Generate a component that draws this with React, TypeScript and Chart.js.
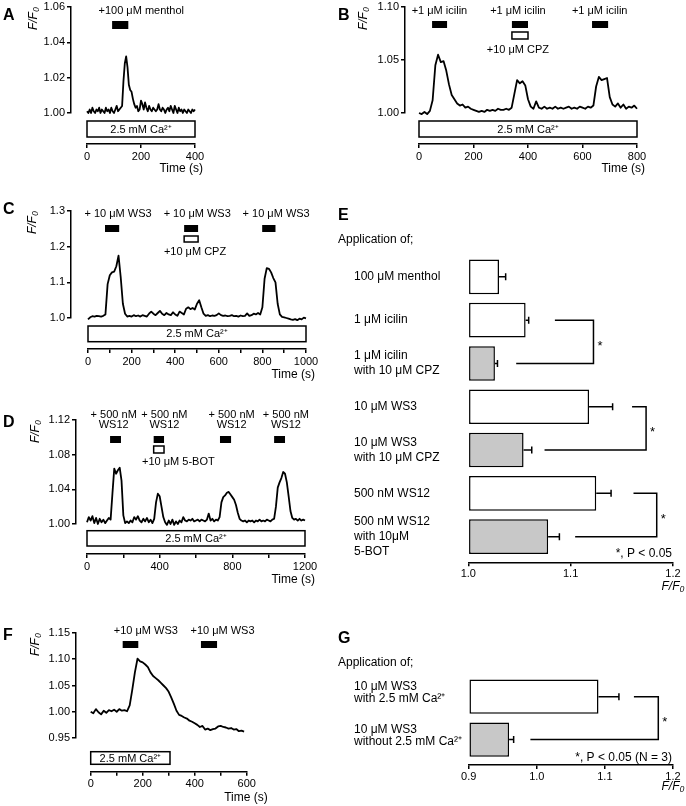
import React, { useEffect, useRef } from 'react';
import { Chart, registerables } from 'chart.js';

Chart.register(...registerables);

const FONT = '"Liberation Sans", Arial, Helvetica, sans-serif';
Chart.defaults.font.family = FONT;
Chart.defaults.color = '#000';

// ======================= DATA =======================
const CA_TEXT = '2.5 mM Ca²⁺';
const Y_TITLE = 'F/F₀';
const TIME_TITLE = 'Time (s)';
const HEADING = 'Application of;';
const SIG_MARK = '*';

// ---- Panel A : 100 µM menthol ----
const A_DT = 5; // sampling interval (s)
const A_VALUES = [
  1.001, 1.000, 1.002, 1.000, 1.003, 1.001, 1.000, 1.002, 1.001, 1.003,
  1.000, 1.002, 1.001, 1.000, 1.003, 1.001, 1.002, 1.000, 1.003, 1.001,
  1.000, 1.002, 1.004, 1.001, 1.002, 1.003,
  1.004, 1.018, 1.028, 1.032, 1.026, 1.016, 1.013, 1.012, 1.008, 1.005,
  1.003, 1.004, 1.001, 1.002, 1.007,
  1.005, 1.002, 1.006, 1.003, 1.001, 1.004, 1.002, 1.001, 1.003, 1.002,
  1.001, 1.002, 1.005, 1.002, 1.001, 1.003, 1.002, 1.000, 1.002, 1.003,
  1.001, 1.004, 1.002, 1.000, 1.004, 1.002, 1.000, 1.003, 1.001, 1.002,
  1.000, 1.002, 1.001, 1.000, 1.002, 1.001, 1.000, 1.002, 1.001, 1.002,
];
const A_Y_TICKS = [1.0, 1.02, 1.04, 1.06];
const A_X_TICKS = [0, 200, 400];
const A_X_LABELS = [0, 200, 400];
const A_CA = [0, 400];
const A_DRUG = [[93, 153]];
const A_OPEN: number[][] = [];
const A_TEXT = [['+100 μM menthol']];
const A_TEXT_T = [201];
const A_SUB: string[] = [];
const A_SUB_T: number[] = [];

// ---- Panel B : 1 µM icilin ----
const B_DT = 10;
const B_VALUES = [
  1.000, 0.999, 1.001, 0.999, 1.002, 1.012, 1.045, 1.055, 1.048, 1.049,
  1.040, 1.027, 1.017, 1.013, 1.009, 1.007, 1.008, 1.005, 1.006, 1.004,
  1.003, 1.002, 1.001, 1.002, 1.001, 1.003, 1.002, 1.003, 1.002, 1.004,
  1.003, 1.003, 1.004, 1.003, 1.005, 1.018, 1.031, 1.028, 1.030, 1.026,
  1.013, 1.006, 1.004, 1.011, 1.005, 1.004, 1.006, 1.004, 1.005, 1.004,
  1.006, 1.004, 1.005, 1.004, 1.005, 1.006, 1.004, 1.005, 1.004, 1.006,
  1.005, 1.004, 1.006, 1.005, 1.007, 1.025, 1.034, 1.031, 1.032, 1.033,
  1.015, 1.008, 1.006, 1.009, 1.005, 1.008, 1.004, 1.006, 1.005, 1.007,
  1.004,
];
const B_Y_TICKS = [1.0, 1.05, 1.1];
const B_X_TICKS = [0, 200, 400, 600, 800];
const B_X_LABELS = [0, 200, 400, 600, 800];
const B_CA = [0, 800];
const B_DRUG = [[48, 103], [341, 400], [635, 694]];
const B_OPEN = [[341, 400]];
const B_TEXT = [['+1 μM icilin'], ['+1 μM icilin'], ['+1 μM icilin']];
const B_TEXT_T = [75, 363, 663];
const B_SUB = ['+10 μM CPZ'];
const B_SUB_T = [363];

// ---- Panel C : 10 µM WS3 ----
const C_DT = 10;
const C_VALUES = [
  0.996, 1.002, 1.005, 1.004, 1.006, 1.005, 1.004, 1.006, 1.010, 1.095,
  1.120, 1.128, 1.130, 1.145, 1.175, 1.115, 1.040, 1.012, 1.004, 1.006,
  1.004, 1.008, 1.005, 1.007, 1.004, 1.008, 1.006, 1.004, 1.012, 1.018,
  1.012, 1.008, 1.014, 1.020, 1.012, 1.008, 1.014, 1.010, 1.008, 1.016,
  1.010, 1.006, 1.018, 1.014, 1.010, 1.026, 1.030, 1.025, 1.028, 1.024,
  1.040, 1.050, 1.030, 1.012, 1.006, 1.008, 1.005, 1.007, 1.006, 1.008,
  1.013, 1.008, 1.006, 1.007, 1.005, 1.006, 1.008, 1.005, 1.006, 1.004,
  1.007, 1.005, 1.006, 1.013, 1.006, 1.008, 1.012, 1.010, 1.014, 1.010,
  1.030, 1.110, 1.140, 1.138, 1.128, 1.112, 1.100, 1.040, 1.010, 1.003,
  1.002, 1.000, 0.998, 0.996, 0.995, 0.997, 0.994, 0.998, 0.996, 1.001,
  0.999,
];
const C_Y_TICKS = [1.0, 1.1, 1.2, 1.3];
const C_X_TICKS = [0, 100, 200, 300, 400, 500, 600, 700, 800, 900, 1000];
const C_X_LABELS = [0, 200, 400, 600, 800, 1000];
const C_CA = [0, 1000];
const C_DRUG = [[78, 143], [441, 505], [799, 860]];
const C_OPEN = [[441, 505]];
const C_TEXT = [['+ 10 μM WS3'], ['+ 10 μM WS3'], ['+ 10 μM WS3']];
const C_TEXT_T = [138, 501, 863];
const C_SUB = ['+10 μM CPZ'];
const C_SUB_T = [491];

// ---- Panel D : 500 nM WS12 ----
const D_DT = 10;
const D_VALUES = [
  1.002, 1.008, 1.004, 1.009, 1.001, 1.007, 1.000, 1.006, 1.002, 1.005,
  1.001, 1.004, 1.007, 1.005, 1.035, 1.064, 1.058, 1.062, 1.065, 1.050,
  1.010, 1.001, 1.003, 1.001, 1.004, 1.002, 1.008, 1.005, 1.009, 1.004,
  1.002, 1.006, 1.003, 1.007, 1.002, 1.005, 1.001, 1.006, 1.025, 1.035,
  1.032, 1.020, 1.008, 1.002, 0.999, 1.004, 1.000, 1.005, 0.999, 1.003,
  1.000, 1.004, 1.002, 1.008, 1.004, 1.003, 1.005, 1.004, 1.006, 1.003,
  1.004, 1.005, 1.003, 1.005, 1.004, 1.003, 1.005, 1.012, 1.004, 1.006,
  1.003, 1.005, 1.004, 1.008, 1.025, 1.031, 1.033, 1.036, 1.037, 1.034,
  1.031, 1.028, 1.022, 1.013, 1.006, 1.004, 1.003, 1.004, 1.002, 1.004,
  1.003, 1.004, 1.002, 1.004, 1.003, 1.005, 1.003, 1.004, 1.003, 1.005,
  1.004, 1.003, 1.005, 1.006, 1.020, 1.042, 1.048, 1.053, 1.060, 1.058,
  1.048, 1.032, 1.015, 1.007, 1.005, 1.006, 1.004, 1.006, 1.004, 1.005,
  1.004,
];
const D_Y_TICKS = [1.0, 1.04, 1.08, 1.12];
const D_X_TICKS = [0, 200, 400, 600, 800, 1000, 1200];
const D_X_LABELS = [0, 400, 800, 1200];
const D_CA = [0, 1200];
const D_DRUG = [[127, 187], [367, 424], [732, 793], [1030, 1090]];
const D_OPEN = [[367, 424]];
const D_TEXT = [['+ 500 nM', 'WS12'], ['+ 500 nM', 'WS12'], ['+ 500 nM', 'WS12'], ['+ 500 nM', 'WS12']];
const D_TEXT_T = [147, 426, 796, 1095];
const D_SUB = ['+10 μM 5-BOT'];
const D_SUB_T = [503];

// ---- Panel F : WS3 without extracellular Ca ----
const F_DT = 10;
const F_VALUES = [
  1.000, 0.997, 1.005, 0.999, 0.995, 1.002, 0.998, 1.003, 1.001, 1.004,
  1.000, 1.005, 1.002, 1.003, 1.001, 1.012, 1.042, 1.075, 1.101, 1.096,
  1.094, 1.090, 1.085, 1.075, 1.068, 1.064, 1.060, 1.055, 1.050, 1.045,
  1.038, 1.027, 1.015, 1.002, 0.994, 0.992, 0.989, 0.987, 0.983, 0.981,
  0.978, 0.975, 0.971, 0.973, 0.966, 0.968, 0.965, 0.967, 0.968, 0.972,
  0.973, 0.971, 0.970, 0.968, 0.969, 0.966, 0.967, 0.963, 0.964, 0.962,
];
const F_Y_TICKS = [0.95, 1.0, 1.05, 1.1, 1.15];
const F_X_TICKS = [0, 100, 200, 300, 400, 500, 600];
const F_X_LABELS = [0, 200, 400, 600];
const F_CA = [0, 305];
const F_DRUG = [[123, 183], [424, 486]];
const F_OPEN: number[][] = [];
const F_TEXT = [['+10 μM WS3'], ['+10 μM WS3']];
const F_TEXT_T = [212, 507];
const F_SUB: string[] = [];
const F_SUB_T: number[] = [];

// ---- Panel E : summary ----
const E_LABELS = [
  ['100 μM menthol'],
  ['1 μM icilin'],
  ['1 μM icilin', 'with 10 μM CPZ'],
  ['10 μM WS3'],
  ['10 μM WS3', 'with 10 μM CPZ'],
  ['500 nM WS12'],
  ['500 nM WS12', 'with 10μM', '5-BOT'],
];
const E_VALUES = [1.030, 1.056, 1.026, 1.118, 1.054, 1.125, 1.078];
const E_ERRORS = [0.0065, 0.003, 0.0025, 0.023, 0.008, 0.0145, 0.011];
const E_GROUP = ['agonist', 'agonist', 'blocker', 'agonist', 'blocker', 'agonist', 'blocker'];
const E_X_TICKS = [1.0, 1.1, 1.2];
const E_BRACKETS = [[1, 2], [3, 4], [5, 6]];
const E_P_TEXT = '*, P < 0.05';

// ---- Panel G : summary ----
const G_LABELS = [
  ['10 μM WS3', 'with 2.5 mM Ca²⁺'],
  ['10 μM WS3', 'without 2.5 mM Ca²⁺'],
];
const G_VALUES = [1.0906, 0.9593];
const G_ERRORS = [0.030, 0.0067];
const G_GROUP = ['agonist', 'blocker'];
const G_X_TICKS = [0.9, 1.0, 1.1, 1.2];
const G_BRACKETS = [[0, 1]];
const G_P_TEXT = '*, P < 0.05 (N = 3)';

// ======================= STYLES / LAYOUT =======================
const FILL: any = { agonist: '#ffffff', blocker: '#c8c8c8' };
const LINE_W = 1.5;
const TRACE_W = 1.8;

const TRACE_PANELS: any[] = [
  {
    data: { dt: A_DT, values: A_VALUES, yTicks: A_Y_TICKS, xTicks: A_X_TICKS, xLabels: A_X_LABELS, ca: A_CA, drug: A_DRUG, open: A_OPEN, text: A_TEXT, textT: A_TEXT_T, sub: A_SUB, subT: A_SUB_T },
    style: { letter: 'A', letterXY: [3, 20], canvas: { l: 0, t: -10, w: 336, h: 200 }, xL: 87, xR: 195, yT: 7, yB: 113, yAxisX: 71, yTitleX: 34, xAxisY: 144, yDec: 2, bar: [14, 22], open: [25, 32], labelY: 4, subY: 43, ca: [8, 24], timeDx: 8, timeDy: 25 },
  },
  {
    data: { dt: B_DT, values: B_VALUES, yTicks: B_Y_TICKS, xTicks: B_X_TICKS, xLabels: B_X_LABELS, ca: B_CA, drug: B_DRUG, open: B_OPEN, text: B_TEXT, textT: B_TEXT_T, sub: B_SUB, subT: B_SUB_T },
    style: { letter: 'B', letterXY: [338, 20], canvas: { l: 336, t: -10, w: 350, h: 200 }, xL: 419, xR: 637, yT: 7, yB: 113, yAxisX: 405, yTitleX: 364, xAxisY: 144, yDec: 2, bar: [14, 21], open: [25, 32], labelY: 4, subY: 43, ca: [8, 24], timeDx: 8, timeDy: 25 },
  },
  {
    data: { dt: C_DT, values: C_VALUES, yTicks: C_Y_TICKS, xTicks: C_X_TICKS, xLabels: C_X_LABELS, ca: C_CA, drug: C_DRUG, open: C_OPEN, text: C_TEXT, textT: C_TEXT_T, sub: C_SUB, subT: C_SUB_T },
    style: { letter: 'C', letterXY: [3, 214], canvas: { l: 0, t: 195, w: 336, h: 195 }, xL: 88, xR: 306, yT: 211, yB: 318, yAxisX: 71, yTitleX: 33, xAxisY: 349, yDec: 1, bar: [14, 21], open: [25, 31], labelY: 3, subY: 41, ca: [8, 23.7], timeDx: 9, timeDy: 26 },
  },
  {
    data: { dt: D_DT, values: D_VALUES, yTicks: D_Y_TICKS, xTicks: D_X_TICKS, xLabels: D_X_LABELS, ca: D_CA, drug: D_DRUG, open: D_OPEN, text: D_TEXT, textT: D_TEXT_T, sub: D_SUB, subT: D_SUB_T },
    style: { letter: 'D', letterXY: [3, 427], canvas: { l: 0, t: 395, w: 336, h: 200 }, xL: 87, xR: 305, yT: 420, yB: 524, yAxisX: 76, yTitleX: 36, xAxisY: 554, yDec: 2, bar: [16, 23], open: [26, 33], labelY: -5, subY: 42, ca: [6.7, 22], timeDx: 10, timeDy: 26 },
  },
  {
    data: { dt: F_DT, values: F_VALUES, yTicks: F_Y_TICKS, xTicks: F_X_TICKS, xLabels: F_X_LABELS, ca: F_CA, drug: F_DRUG, open: F_OPEN, text: F_TEXT, textT: F_TEXT_T, sub: F_SUB, subT: F_SUB_T },
    style: { letter: 'F', letterXY: [3, 640], canvas: { l: 0, t: 600, w: 336, h: 206 }, xL: 90.7, xR: 246.7, yT: 633, yB: 738, yAxisX: 76, yTitleX: 36, xAxisY: 771.7, yDec: 2, bar: [8, 15], open: [0, 0], labelY: -2, subY: 0, ca: [13.7, 26.3], timeDx: 21, timeDy: 26.3 },
  },
];

const BAR_PANELS: any[] = [
  {
    data: { labels: E_LABELS, values: E_VALUES, errors: E_ERRORS, group: E_GROUP, xTicks: E_X_TICKS, brackets: E_BRACKETS, pText: E_P_TEXT },
    style: {
      letter: 'E', letterXY: [338, 220], headXY: [338, 240], canvas: { l: 336, t: 195, w: 350, h: 400 },
      labelX: 354, xL: 468.3, xR: 673, yT: 255.2, yB: 558.3, xAxisY: 562.3, labelSize: 12, labelLH: 1.25, labelOffset: 0,
      bracketX: [
        { upper: 1.0846, lower: 1.0468, at: 1.1223 },
        { upper: 1.160, lower: 1.0745, at: 1.1737 },
        { upper: 1.1614, lower: 1.1044, at: 1.1841 },
      ],
      pDy: -5, titleDy: 24.4,
    },
  },
  {
    data: { labels: G_LABELS, values: G_VALUES, errors: G_ERRORS, group: G_GROUP, xTicks: G_X_TICKS, brackets: G_BRACKETS, pText: G_P_TEXT },
    style: {
      letter: 'G', letterXY: [338, 643], headXY: [338, 662.7], canvas: { l: 336, t: 620, w: 350, h: 186 },
      labelX: 354, xL: 468.7, xR: 673, yT: 675.2, yB: 761, xAxisY: 765, labelSize: 12, labelLH: 1.05, labelOffset: -4,
      bracketX: [{ upper: 1.1426, lower: 0.9906, at: 1.1784 }],
      pDy: -3.7, titleDy: 21.7,
    },
  },
];

// ======================= CHART BUILDERS =======================
const axisGrid = { display: true, drawOnChartArea: false, drawTicks: true, tickLength: 4, color: '#000', lineWidth: LINE_W };
const axisBorder = { display: true, color: '#000', width: LINE_W };
const padScale = (size: number, horizontal: boolean) => ({
  type: 'linear', position: horizontal ? 'bottom' : 'left', weight: 0, min: 0, max: 1, display: true,
  ticks: { display: false }, grid: { display: false }, border: { display: false },
  afterFit: (s: any) => { if (horizontal) s.height = size; else s.width = size; },
});

function traceConfig(d: any, s: any): any {
  const titleHalf = 7.2;
  const padL = s.yTitleX - titleHalf - s.canvas.l;
  const yW = s.yAxisX - (s.yTitleX - titleHalf);
  const ypadW = s.xL - s.yAxisX;
  const padR = s.canvas.l + s.canvas.w - s.xR;
  const padT = s.yT - s.canvas.t;
  const xpadH = s.xAxisY - s.yB;
  const xAxisH = 20;
  const padB = s.canvas.t + s.canvas.h - s.xAxisY - xAxisH;
  const yTicks = d.yTicks;
  const xTicks = d.xTicks;
  const points = d.values.map((v: number, i: number) => ({ x: i * d.dt, y: v }));

  const plugin = {
    id: 'traceAnnotations',
    afterDraw(chart: any) {
      const ctx = chart.ctx;
      const ca = chart.chartArea;
      const xs = chart.scales.x;
      const px = (t: number) => xs.getPixelForValue(t);
      ctx.save();
      ctx.strokeStyle = '#000';
      ctx.fillStyle = '#000';
      ctx.lineWidth = LINE_W;
      // Ca2+ box
      const cx0 = px(d.ca[0]);
      const cx1 = px(d.ca[1]);
      const cy0 = ca.bottom + s.ca[0];
      const cy1 = ca.bottom + s.ca[1];
      ctx.strokeRect(cx0, cy0, cx1 - cx0, cy1 - cy0);
      ctx.font = `11px ${FONT}`;
      ctx.textAlign = 'center';
      ctx.textBaseline = 'middle';
      ctx.fillText(CA_TEXT, (cx0 + cx1) / 2, (cy0 + cy1) / 2 + 0.5);
      // drug application bars
      d.drug.forEach((w: number[]) => {
        ctx.fillRect(px(w[0]), ca.top + s.bar[0], px(w[1]) - px(w[0]), s.bar[1] - s.bar[0]);
      });
      d.open.forEach((w: number[]) => {
        ctx.strokeRect(px(w[0]), ca.top + s.open[0], px(w[1]) - px(w[0]), s.open[1] - s.open[0]);
      });
      d.text.forEach((lines: string[], i: number) => {
        lines.forEach((ln: string, j: number) => {
          ctx.fillText(ln, px(d.textT[i]), ca.top + s.labelY + j * 10);
        });
      });
      d.sub.forEach((t: string, i: number) => {
        ctx.fillText(t, px(d.subT[i]), ca.top + s.subY);
      });
      // time title
      ctx.font = `12px ${FONT}`;
      ctx.textAlign = 'right';
      ctx.fillText(TIME_TITLE, ca.right + s.timeDx, ca.bottom + xpadH + s.timeDy);
      // panel letter
      ctx.font = `bold 16px ${FONT}`;
      ctx.textAlign = 'left';
      ctx.textBaseline = 'alphabetic';
      ctx.fillText(s.letter, s.letterXY[0] - s.canvas.l, s.letterXY[1] - s.canvas.t);
      ctx.restore();
    },
  };

  return {
    type: 'line',
    data: {
      datasets: [{
        data: points, xAxisID: 'x', yAxisID: 'y', borderColor: '#000', borderWidth: TRACE_W,
        pointRadius: 0, tension: 0, clip: false, borderJoinStyle: 'round', fill: false,
      }],
    },
    options: {
      responsive: false, animation: false, events: [], devicePixelRatio: 1,
      layout: { padding: { left: padL, right: padR, top: padT, bottom: padB } },
      plugins: { legend: { display: false }, tooltip: { enabled: false }, title: { display: false } },
      scales: {
        x: {
          type: 'linear', position: 'bottom', weight: 1, min: xTicks[0], max: xTicks[xTicks.length - 1],
          afterBuildTicks: (sc: any) => { sc.ticks = xTicks.map((v: number) => ({ value: v })); },
          afterFit: (sc: any) => { sc.height = xAxisH; },
          ticks: {
            autoSkip: false, maxRotation: 0, padding: 2, font: { size: 11 }, color: '#000',
            callback: (v: any) => (d.xLabels.indexOf(v) >= 0 ? String(v) : ''),
          },
          grid: axisGrid, border: axisBorder,
        },
        xpad: padScale(xpadH, true),
        y: {
          type: 'linear', position: 'left', weight: 1, min: yTicks[0], max: yTicks[yTicks.length - 1],
          afterBuildTicks: (sc: any) => { sc.ticks = yTicks.map((v: number) => ({ value: v })); },
          afterFit: (sc: any) => { sc.width = yW; },
          ticks: { autoSkip: false, padding: 2, font: { size: 11 }, color: '#000', callback: (v: any) => Number(v).toFixed(s.yDec) },
          grid: axisGrid, border: axisBorder,
          title: { display: true, text: Y_TITLE, align: 'end', padding: 0, color: '#000', font: { size: 12, style: 'italic' } },
        },
        ypad: padScale(ypadW, false),
      },
    },
    plugins: [plugin],
  };
}

function barConfig(d: any, s: any): any {
  const padL = s.labelX - s.canvas.l;
  const yW = s.xL - s.labelX;
  const padR = s.canvas.l + s.canvas.w - s.xR;
  const padT = s.yT - s.canvas.t;
  const xpadH = s.xAxisY - s.yB;
  const xAxisH = 20;
  const padB = s.canvas.t + s.canvas.h - s.xAxisY - xAxisH;
  const xTicks = d.xTicks;

  const plugin = {
    id: 'barAnnotations',
    afterDatasetsDraw(chart: any) {
      const ctx = chart.ctx;
      const ca = chart.chartArea;
      const xs = chart.scales.x;
      const ys = chart.scales.y;
      ctx.save();
      ctx.strokeStyle = '#000';
      ctx.fillStyle = '#000';
      ctx.lineWidth = LINE_W;
      // error bars (SEM, one-sided)
      d.values.forEach((v: number, i: number) => {
        const y = ys.getPixelForValue(i);
        const x0 = xs.getPixelForValue(v);
        const x1 = xs.getPixelForValue(v + d.errors[i]);
        ctx.beginPath();
        ctx.moveTo(x0, y);
        ctx.lineTo(x1, y);
        ctx.moveTo(x1, y - 3.5);
        ctx.lineTo(x1, y + 3.5);
        ctx.stroke();
      });
      // significance brackets
      d.brackets.forEach((pair: number[], k: number) => {
        const g = s.bracketX[k];
        const ya = ys.getPixelForValue(pair[0]);
        const yb = ys.getPixelForValue(pair[1]);
        const xv = xs.getPixelForValue(g.at);
        ctx.beginPath();
        ctx.moveTo(xs.getPixelForValue(g.upper), ya);
        ctx.lineTo(xv, ya);
        ctx.lineTo(xv, yb);
        ctx.lineTo(xs.getPixelForValue(g.lower), yb);
        ctx.stroke();
        ctx.font = `13px ${FONT}`;
        ctx.textAlign = 'left';
        ctx.textBaseline = 'alphabetic';
        ctx.fillText(SIG_MARK, xv + 4, (ya + yb) / 2 + 8);
      });
      // P text
      ctx.font = `12px ${FONT}`;
      ctx.textAlign = 'right';
      ctx.textBaseline = 'middle';
      ctx.fillText(d.pText, ca.right - 1, ca.bottom + s.pDy);
      // x title
      ctx.font = `italic 12px ${FONT}`;
      ctx.textAlign = 'center';
      ctx.fillText(Y_TITLE, ca.right, ca.bottom + xpadH + s.titleDy);
      // heading
      ctx.font = `12px ${FONT}`;
      ctx.textAlign = 'left';
      ctx.fillText(HEADING, s.headXY[0] - s.canvas.l, s.headXY[1] - s.canvas.t);
      // letter
      ctx.font = `bold 16px ${FONT}`;
      ctx.textBaseline = 'alphabetic';
      ctx.fillText(s.letter, s.letterXY[0] - s.canvas.l, s.letterXY[1] - s.canvas.t);
      ctx.restore();
    },
  };

  return {
    type: 'bar',
    data: {
      labels: d.labels,
      datasets: [{
        data: d.values, xAxisID: 'x', yAxisID: 'y', base: xTicks[0],
        backgroundColor: d.group.map((g: string) => FILL[g]),
        borderColor: '#000', borderWidth: 1.5, borderSkipped: false,
        barPercentage: 0.8, categoryPercentage: 1, clip: false,
      }],
    },
    options: {
      indexAxis: 'y', responsive: false, animation: false, events: [], devicePixelRatio: 1,
      layout: { padding: { left: padL, right: padR, top: padT, bottom: padB } },
      plugins: { legend: { display: false }, tooltip: { enabled: false }, title: { display: false } },
      scales: {
        x: {
          type: 'linear', position: 'bottom', weight: 1, min: xTicks[0], max: xTicks[xTicks.length - 1],
          afterBuildTicks: (sc: any) => { sc.ticks = xTicks.map((v: number) => ({ value: v })); },
          afterFit: (sc: any) => { sc.height = xAxisH; },
          ticks: { autoSkip: false, maxRotation: 0, padding: 1, font: { size: 11 }, color: '#000', callback: (v: any) => Number(v).toFixed(1) },
          grid: axisGrid, border: axisBorder,
        },
        xpad: padScale(xpadH, true),
        y: {
          type: 'category', position: 'left',
          afterFit: (sc: any) => { sc.width = yW; },
          grid: { display: false }, border: { display: false },
          ticks: {
            autoSkip: false, crossAlign: 'far', color: '#000', labelOffset: s.labelOffset,
            font: { size: s.labelSize, lineHeight: s.labelLH },
          },
        },
      },
    },
    plugins: [plugin],
  };
}

function ChartCanvas({ box, build }: { box: any; build: () => any }) {
  const ref = useRef<HTMLCanvasElement>(null);
  useEffect(() => {
    const chart = new Chart(ref.current as HTMLCanvasElement, build());
    return () => chart.destroy();
  }, []);
  return (
    <canvas
      ref={ref}
      width={box.w}
      height={box.h}
      style={{ position: 'absolute', left: box.l, top: box.t, width: box.w, height: box.h, display: 'block' }}
    />
  );
}

export default function App() {
  return (
    <div style={{ position: 'absolute', left: 0, top: 0, width: 686, height: 806, background: '#fff', overflow: 'hidden' }}>
      {TRACE_PANELS.map((p, i) => (
        <ChartCanvas key={'t' + i} box={p.style.canvas} build={() => traceConfig(p.data, p.style)} />
      ))}
      {BAR_PANELS.map((p, i) => (
        <ChartCanvas key={'b' + i} box={p.style.canvas} build={() => barConfig(p.data, p.style)} />
      ))}
    </div>
  );
}
